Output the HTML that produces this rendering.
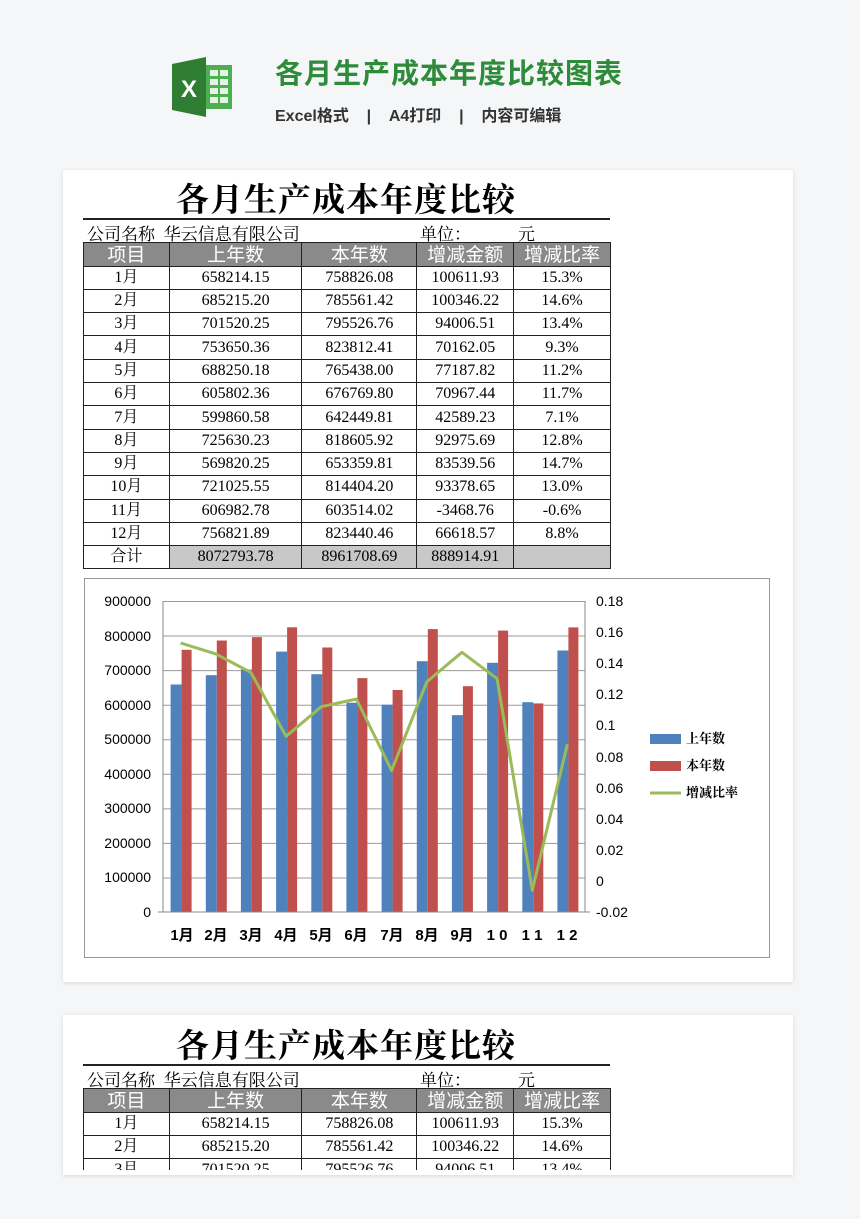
<!DOCTYPE html>
<html><head><meta charset="utf-8"><style>
body{margin:0;width:860px;height:1219px;background:#f5f6f7;position:relative;overflow:hidden;font-family:"Liberation Serif","Noto Serif CJK SC",serif;}
.card{position:absolute;left:63px;width:730px;background:#fff;box-shadow:0 1px 4px rgba(0,0,0,.12);}
.abs{position:absolute;}
table{position:absolute;left:83px;border-collapse:collapse;font-size:16px;}
td{border:1.5px solid #222;text-align:center;padding:0;height:22.3px;line-height:20px;}
tr.h td{background:#8a8a8a;color:#fff;font-size:19px;font-family:"Noto Sans CJK SC",sans-serif;height:22.6px;}
tr.t td.g{background:#c8c8c8;}
</style></head><body>
<svg class="abs" style="left:170px;top:56px" width="64" height="62" viewBox="0 0 64 62">
<rect x="26" y="9" width="36" height="44" fill="#4caf50"/>
<g fill="#fff" opacity=".85"><rect x="40" y="14" width="8" height="6"/><rect x="50" y="14" width="8" height="6"/><rect x="40" y="23" width="8" height="6"/><rect x="50" y="23" width="8" height="6"/><rect x="40" y="32" width="8" height="6"/><rect x="50" y="32" width="8" height="6"/><rect x="40" y="41" width="8" height="6"/><rect x="50" y="41" width="8" height="6"/></g>
<polygon points="2,8 36,1 36,61 2,54" fill="#2e7d32"/>
<text x="19" y="41" font-family="Liberation Sans" font-weight="bold" font-size="24" fill="#fff" text-anchor="middle">X</text>
</svg>
<div class="abs" style="left:275px;top:52px;font-family:'Noto Sans CJK SC',sans-serif;font-weight:bold;font-size:28px;color:#2e8b3a;letter-spacing:1px">各月生产成本年度比较图表</div>
<div class="abs" style="left:275px;top:102px;font-family:'Liberation Sans','Noto Sans CJK SC',sans-serif;font-weight:bold;font-size:16px;color:#333;white-space:pre">Excel格式    |    A4打印    |    内容可编辑</div>

<div class="card" style="top:170px;height:812px"></div>
<div class="card" style="top:1015px;height:160px"></div>

<div class="abs" style="left:176px;top:174px;font-size:33px;font-weight:bold;font-family:'Noto Serif CJK SC',serif;letter-spacing:1px">各月生产成本年度比较</div>
<div class="abs" style="left:83px;top:218px;width:527px;border-top:2px solid #222"></div>
<div class="abs" style="left:87px;top:220px;font-size:17px;font-family:'Noto Serif CJK SC',serif;white-space:pre">公司名称  华云信息有限公司</div>
<div class="abs" style="left:420px;top:220px;font-size:17px;font-family:'Noto Serif CJK SC',serif">单位：</div>
<div class="abs" style="left:518px;top:220px;font-size:17px;font-family:'Noto Serif CJK SC',serif">元</div>
<table style="top:242px;width:528px">
<colgroup><col style="width:86px"><col style="width:133px"><col style="width:115px"><col style="width:97px"><col style="width:97px"></colgroup>
<tr class="h"><td>项目</td><td>上年数</td><td>本年数</td><td>增减金额</td><td>增减比率</td></tr>
<tr><td>1月</td><td>658214.15</td><td>758826.08</td><td>100611.93</td><td>15.3%</td></tr>
<tr><td>2月</td><td>685215.20</td><td>785561.42</td><td>100346.22</td><td>14.6%</td></tr>
<tr><td>3月</td><td>701520.25</td><td>795526.76</td><td>94006.51</td><td>13.4%</td></tr>
<tr><td>4月</td><td>753650.36</td><td>823812.41</td><td>70162.05</td><td>9.3%</td></tr>
<tr><td>5月</td><td>688250.18</td><td>765438.00</td><td>77187.82</td><td>11.2%</td></tr>
<tr><td>6月</td><td>605802.36</td><td>676769.80</td><td>70967.44</td><td>11.7%</td></tr>
<tr><td>7月</td><td>599860.58</td><td>642449.81</td><td>42589.23</td><td>7.1%</td></tr>
<tr><td>8月</td><td>725630.23</td><td>818605.92</td><td>92975.69</td><td>12.8%</td></tr>
<tr><td>9月</td><td>569820.25</td><td>653359.81</td><td>83539.56</td><td>14.7%</td></tr>
<tr><td>10月</td><td>721025.55</td><td>814404.20</td><td>93378.65</td><td>13.0%</td></tr>
<tr><td>11月</td><td>606982.78</td><td>603514.02</td><td>-3468.76</td><td>-0.6%</td></tr>
<tr><td>12月</td><td>756821.89</td><td>823440.46</td><td>66618.57</td><td>8.8%</td></tr>
<tr class="t"><td>合计</td><td class="g">8072793.78</td><td class="g">8961708.69</td><td class="g">888914.91</td><td class="g"></td></tr>
</table>

<svg class="abs" style="left:0;top:0" width="860" height="1219">
<rect x="84.5" y="578.5" width="685" height="379" fill="#fff" stroke="#999"/>
<g stroke="#999" stroke-width="1">
<line x1="163" x2="585" y1="601.5" y2="601.5"/><line x1="163" x2="585" y1="636" y2="636"/><line x1="163" x2="585" y1="670.6" y2="670.6"/><line x1="163" x2="585" y1="705.2" y2="705.2"/><line x1="163" x2="585" y1="739.7" y2="739.7"/><line x1="163" x2="585" y1="774.3" y2="774.3"/><line x1="163" x2="585" y1="808.9" y2="808.9"/><line x1="163" x2="585" y1="843.4" y2="843.4"/><line x1="163" x2="585" y1="878" y2="878"/>
</g>
<g fill="#4f81bd">
<rect x="170.6" y="684.5" width="11" height="227.5"/><rect x="205.8" y="675.2" width="11" height="236.8"/><rect x="240.9" y="669.6" width="11" height="242.4"/><rect x="276.1" y="651.6" width="11" height="260.4"/><rect x="311.3" y="674.2" width="11" height="237.8"/><rect x="346.4" y="702.7" width="11" height="209.3"/><rect x="381.6" y="704.7" width="11" height="207.3"/><rect x="416.8" y="661.2" width="11" height="250.8"/><rect x="451.9" y="715.1" width="11" height="196.9"/><rect x="487.1" y="662.8" width="11" height="249.2"/><rect x="522.3" y="702.2" width="11" height="209.8"/><rect x="557.4" y="650.5" width="11" height="261.5"/>
</g>
<g fill="#c0504d">
<rect x="181.6" y="649.8" width="10" height="262.2"/><rect x="216.8" y="640.5" width="10" height="271.5"/><rect x="251.9" y="637.1" width="10" height="274.9"/><rect x="287.1" y="627.3" width="10" height="284.7"/><rect x="322.3" y="647.5" width="10" height="264.5"/><rect x="357.4" y="678.1" width="10" height="233.9"/><rect x="392.6" y="690" width="10" height="222"/><rect x="427.8" y="629.1" width="10" height="282.9"/><rect x="462.9" y="686.2" width="10" height="225.8"/><rect x="498.1" y="630.6" width="10" height="281.4"/><rect x="533.3" y="703.4" width="10" height="208.6"/><rect x="568.4" y="627.4" width="10" height="284.6"/>
</g>
<g stroke="#888"><line x1="163" y1="601" x2="163" y2="912"/><line x1="585" y1="601" x2="585" y2="912"/><line x1="158" y1="912" x2="590" y2="912"/></g>
<polyline fill="none" stroke="#9bbb59" stroke-width="3" stroke-linejoin="round" points="180.6,643 215.8,653.9 250.9,672.5 286.1,736.3 321.3,706.7 356.4,699 391.6,770.5 426.8,681.9 461.9,652.3 497.1,678.7 532.3,890.2 567.4,744.1"/>
<g font-family="Liberation Sans" font-size="14" fill="#000" text-anchor="end">
<text x="151" y="606">900000</text><text x="151" y="641">800000</text><text x="151" y="675">700000</text><text x="151" y="710">600000</text><text x="151" y="744">500000</text><text x="151" y="779">400000</text><text x="151" y="813">300000</text><text x="151" y="848">200000</text><text x="151" y="882">100000</text><text x="151" y="917">0</text>
</g>
<g font-family="Liberation Sans" font-size="14" fill="#000">
<text x="596" y="606">0.18</text><text x="596" y="637">0.16</text><text x="596" y="668">0.14</text><text x="596" y="699">0.12</text><text x="596" y="730">0.1</text><text x="596" y="762">0.08</text><text x="596" y="793">0.06</text><text x="596" y="824">0.04</text><text x="596" y="855">0.02</text><text x="596" y="886">0</text><text x="596" y="917">-0.02</text>
</g>
<g font-family="Liberation Sans,Noto Sans CJK SC" font-weight="bold" font-size="15" text-anchor="middle">
<text x="182" y="940">1月</text><text x="216" y="940">2月</text><text x="251" y="940">3月</text><text x="286" y="940">4月</text><text x="321" y="940">5月</text><text x="356" y="940">6月</text><text x="392" y="940">7月</text><text x="427" y="940">8月</text><text x="462" y="940">9月</text><text x="497" y="940">1 0</text><text x="532" y="940">1 1</text><text x="567" y="940">1 2</text>
</g>
<rect x="650" y="734" width="31" height="10" fill="#4f81bd"/>
<rect x="650" y="761" width="31" height="10" fill="#c0504d"/>
<line x1="650" y1="793" x2="681" y2="793" stroke="#9bbb59" stroke-width="3"/>
<g font-family="Noto Serif CJK SC,serif" font-size="13" font-weight="bold">
<text x="686" y="743">上年数</text><text x="686" y="770">本年数</text><text x="686" y="797">增减比率</text>
</g>
</svg>

<div class="abs" style="left:176px;top:1020px;font-size:33px;font-weight:bold;font-family:'Noto Serif CJK SC',serif;letter-spacing:1px">各月生产成本年度比较</div>
<div class="abs" style="left:83px;top:1064px;width:527px;border-top:2px solid #222"></div>
<div class="abs" style="left:87px;top:1066px;font-size:17px;font-family:'Noto Serif CJK SC',serif;white-space:pre">公司名称  华云信息有限公司</div>
<div class="abs" style="left:420px;top:1066px;font-size:17px;font-family:'Noto Serif CJK SC',serif">单位：</div>
<div class="abs" style="left:518px;top:1066px;font-size:17px;font-family:'Noto Serif CJK SC',serif">元</div>
<div class="abs" style="left:0;top:1088px;width:860px;height:82px;overflow:hidden">
<table style="top:0;width:528px">
<colgroup><col style="width:86px"><col style="width:133px"><col style="width:115px"><col style="width:97px"><col style="width:97px"></colgroup>
<tr class="h"><td>项目</td><td>上年数</td><td>本年数</td><td>增减金额</td><td>增减比率</td></tr>
<tr><td>1月</td><td>658214.15</td><td>758826.08</td><td>100611.93</td><td>15.3%</td></tr>
<tr><td>2月</td><td>685215.20</td><td>785561.42</td><td>100346.22</td><td>14.6%</td></tr>
<tr><td>3月</td><td>701520.25</td><td>795526.76</td><td>94006.51</td><td>13.4%</td></tr>
</table></div>
</body></html>
